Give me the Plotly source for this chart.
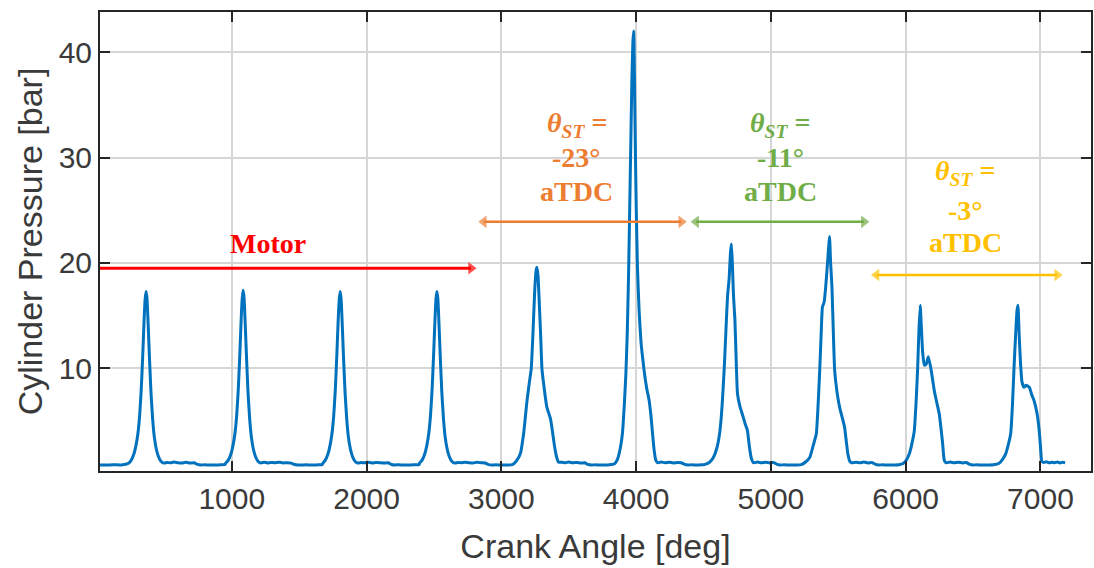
import plotly.graph_objects as go

# ---- data (crank angle [deg], cylinder pressure [bar]) ----
cycle1_deg = [0, 60, 120, 180, 234, 254, 274, 289, 304, 316, 328, 339, 349, 357, 364,
              371, 379, 389, 400, 412, 424, 439, 454, 474, 494,
              520, 545, 570, 600, 630, 660, 690, 720,
              745, 770, 800, 830, 860, 890, 920, 950]
cycle1_bar = [0.85, 0.83, 0.86, 0.84, 1.0, 1.3, 1.9, 2.7, 3.9, 5.5, 8.0, 11.2, 14.5, 16.6, 17.3,
              16.6, 14.3, 11.0, 7.8, 5.3, 3.6, 2.4, 1.7, 1.2, 1.02,
              1.08, 1.05, 1.12, 1.06, 1.04, 1.09, 1.03, 1.05,
              0.9, 0.84, 0.86, 0.83, 0.85, 0.84, 0.86, 0.88]

cycle2_deg = [954, 974, 994, 1009, 1024, 1036, 1048, 1059, 1069, 1077, 1084,
              1091, 1099, 1109, 1120, 1132, 1144, 1159, 1174, 1194, 1214,
              1240, 1265, 1290, 1320, 1350, 1380, 1410, 1440,
              1465, 1490, 1520, 1550, 1580, 1610, 1640, 1670]
cycle2_bar = [1.0, 1.3, 1.9, 2.7, 3.9, 5.5, 8.0, 11.2, 14.5, 16.6, 17.4,
              16.7, 14.4, 11.1, 7.8, 5.3, 3.6, 2.4, 1.7, 1.2, 1.03,
              1.1, 1.04, 1.08, 1.05, 1.11, 1.04, 1.06, 1.02,
              0.88, 0.85, 0.83, 0.86, 0.84, 0.83, 0.86, 0.87]

cycle3_deg = [1674, 1694, 1714, 1729, 1744, 1756, 1768, 1779, 1789, 1797, 1804,
              1811, 1819, 1829, 1840, 1852, 1864, 1879, 1894, 1914, 1934,
              1960, 1985, 2010, 2040, 2070, 2100, 2130, 2160,
              2185, 2210, 2240, 2270, 2300, 2330, 2360, 2390]
cycle3_bar = [0.98, 1.3, 1.9, 2.7, 3.9, 5.5, 8.0, 11.2, 14.5, 16.5, 17.3,
              16.6, 14.3, 11.0, 7.8, 5.3, 3.6, 2.4, 1.7, 1.2, 1.03,
              1.07, 1.05, 1.1, 1.04, 1.08, 1.06, 1.03, 1.05,
              0.89, 0.84, 0.86, 0.84, 0.83, 0.85, 0.86, 0.88]

cycle4_deg = [2392, 2412, 2432, 2447, 2462, 2474, 2486, 2497, 2507, 2515, 2522,
              2529, 2537, 2547, 2558, 2570, 2582, 2597, 2612, 2632, 2652,
              2680, 2705, 2730, 2760, 2790, 2820, 2850, 2880,
              2905, 2930, 2960, 2990, 3020, 3050]
cycle4_bar = [1.0, 1.3, 1.9, 2.7, 3.9, 5.5, 8.0, 11.2, 14.5, 16.6, 17.3,
              16.6, 14.3, 11.0, 7.8, 5.3, 3.6, 2.4, 1.7, 1.2, 1.02,
              1.08, 1.05, 1.1, 1.06, 1.04, 1.09, 1.05, 1.03,
              0.88, 0.84, 0.86, 0.83, 0.85, 0.84]

cycle5_deg = [3081, 3110, 3141, 3165, 3190, 3207, 3222, 3235, 3248, 3258,
              3264, 3272, 3282, 3292, 3301, 3314, 3338, 3363, 3375, 3388,
              3400, 3412, 3425, 3450, 3475, 3500, 3530, 3560, 3590, 3620,
              3640, 3670, 3700, 3730, 3760, 3790, 3815]
cycle5_bar = [0.88, 1.2, 1.9, 3.8, 6.9, 8.6, 10.0, 13.5, 17.5, 19.3,
              19.6, 18.8, 16.0, 13.0, 10.0, 8.5, 6.3, 5.3, 4.4, 3.2,
              2.2, 1.5, 1.1, 1.1, 1.06, 1.12, 1.05, 1.08, 1.03, 1.05,
              0.9, 0.84, 0.86, 0.83, 0.85, 0.84, 0.88]

cycle6_deg = [3840, 3862, 3882, 3898, 3912, 3924, 3934, 3944, 3952, 3960,
              3968, 3976, 3982, 3988, 3994, 4001, 4010, 4022, 4036, 4050,
              4065, 4080, 4096, 4110, 4122, 4134, 4146, 4160, 4185, 4215,
              4245, 4275, 4305, 4335, 4360, 4385, 4415, 4445, 4475, 4500]
cycle6_bar = [0.95, 1.4, 2.4, 3.8, 6.5, 9.5, 13.3, 19.0, 25.0, 31.0,
              37.0, 41.0, 42.0, 37.0, 31.0, 25.0, 19.5, 15.5, 12.5, 10.8,
              9.2, 8.0, 7.0, 5.5, 3.8, 2.2, 1.3, 1.05, 1.12, 1.06,
              1.1, 1.04, 1.08, 1.05, 0.9, 0.84, 0.86, 0.83, 0.85, 0.87]

cycle7_deg = [4511, 4545, 4573, 4600, 4622, 4638, 4654, 4666, 4678, 4690,
              4700, 4707, 4714, 4722, 4733, 4743, 4752, 4770, 4794, 4810,
              4826, 4840, 4856, 4872, 4900, 4930, 4960, 4990, 5020, 5045,
              5070, 5100, 5130, 5160, 5190, 5226]
cycle7_bar = [0.9, 1.1, 1.55, 2.5, 4.1, 6.5, 10.1, 13.5, 16.8, 18.5,
              21.0, 21.8, 20.0, 17.0, 14.6, 10.5, 7.6, 6.4, 5.4, 4.7,
              4.1, 2.6, 1.4, 1.05, 1.12, 1.05, 1.1, 1.04, 1.08, 0.9,
              0.84, 0.86, 0.83, 0.85, 0.84, 0.88]

cycle8_deg = [5255, 5288, 5312, 5337, 5350, 5362, 5372, 5382, 5395, 5405,
              5420, 5435, 5443, 5453, 5463, 5473, 5490, 5510, 5530, 5547,
              5560, 5571, 5585, 5600, 5630, 5660, 5690, 5720, 5750, 5775,
              5800, 5830, 5860, 5890, 5920, 5950, 5978]
cycle8_bar = [1.1, 1.55, 2.6, 3.8, 6.5, 9.8, 13.0, 15.8, 16.3, 17.5,
              20.0, 22.5, 20.0, 17.7, 13.5, 9.8, 7.8, 6.3, 5.3, 4.4,
              3.0, 1.9, 1.2, 1.05, 1.1, 1.05, 1.12, 1.04, 1.08, 0.9,
              0.84, 0.86, 0.83, 0.85, 0.84, 0.86, 0.95]

cycle9_deg = [6005, 6027, 6045, 6064, 6078, 6089, 6098, 6108, 6116, 6126,
              6138, 6152, 6168, 6187, 6212, 6230, 6249, 6262, 6274, 6286,
              6300, 6330, 6360, 6390, 6420, 6450, 6475, 6500, 6530, 6560,
              6590, 6620, 6650, 6693]
cycle9_bar = [1.3, 1.9, 2.8, 4.1, 7.0, 10.1, 13.5, 16.0, 14.0, 11.5,
              10.3, 10.4, 11.1, 10.0, 7.9, 6.8, 5.7, 4.3, 2.9, 1.3,
              1.05, 1.12, 1.05, 1.1, 1.04, 1.07, 0.9, 0.84, 0.86, 0.83,
              0.85, 0.84, 0.86, 1.0]

cycle10_deg = [6720, 6742, 6760, 6779, 6792, 6804, 6815, 6826, 6833, 6841,
               6852, 6863, 6878, 6893, 6918, 6935, 6951, 6975, 6990, 7000,
               7010, 7025, 7045, 7065, 7085, 7105, 7125, 7145, 7165, 7183]
cycle10_bar = [1.4, 1.9, 2.7, 3.8, 6.5, 10.1, 13.0, 15.5, 16.0, 13.5,
               10.5, 8.7, 8.2, 8.4, 8.2, 7.5, 7.0, 5.7, 4.2, 2.6,
               1.2, 1.08, 1.15, 1.05, 1.1, 1.06, 1.12, 1.04, 1.09, 1.06]

x_ticks = [1000, 2000, 3000, 4000, 5000, 6000, 7000]
y_ticks = [10, 20, 30, 40]

# regions (double arrows) and their labels
region_colors = ["#FF0000", "#ED7D31", "#70AD47", "#FFC000"]
region_start = [22, 2870, 4445, 5783]
region_end = [2775, 4335, 5690, 7124]
region_level = [19.5, 23.9, 23.9, 18.86]
region_has_start_head = [False, True, True, True]
region_label_x = [1268, 3558, 5068, 6443]
label_lines = [["<b>Motor</b>"],
               ["<b><i>θ</i><sub><i>ST</i></sub> =</b>", "<b>-23°</b>", "<b>aTDC</b>"],
               ["<b><i>θ</i><sub><i>ST</i></sub> =</b>", "<b>-11°</b>", "<b>aTDC</b>"],
               ["<b><i>θ</i><sub><i>ST</i></sub> =</b>", "<b>-3°</b>", "<b>aTDC</b>"]]
label_line_y = [[21.8], [33.1, 30.0, 26.8], [33.1, 30.0, 26.8], [28.55, 25.0, 21.9]]

# ---- assemble ----
deg_parts = [cycle1_deg, cycle2_deg, cycle3_deg, cycle4_deg, cycle5_deg,
             cycle6_deg, cycle7_deg, cycle8_deg, cycle9_deg, cycle10_deg]
bar_parts = [cycle1_bar, cycle2_bar, cycle3_bar, cycle4_bar, cycle5_bar,
             cycle6_bar, cycle7_bar, cycle8_bar, cycle9_bar, cycle10_bar]
crank = [v for part in deg_parts for v in part]
pressure = [v for part in bar_parts for v in part]

fig = go.Figure()
fig.add_trace(go.Scatter(x=crank, y=pressure, mode="lines",
                         line=dict(color="#0072BD", width=3, shape="spline", smoothing=0.4),
                         showlegend=False, hoverinfo="skip"))

for i, col in enumerate(region_colors):
    fig.add_trace(go.Scatter(
        x=[region_start[i], region_end[i]], y=[region_level[i], region_level[i]],
        mode="lines+markers", showlegend=False, hoverinfo="skip",
        line=dict(color=col, width=3 if i == 0 else 2.5),
        marker=dict(symbol=["triangle-left", "triangle-right"],
                    size=[11 if region_has_start_head[i] else 0, 11],
                    color=col, line=dict(width=0)),
    ))

annotations = []
for i, col in enumerate(region_colors):
    for line_txt, ly in zip(label_lines[i], label_line_y[i]):
        annotations.append(dict(
            x=region_label_x[i], y=ly, xref="x", yref="y", text=line_txt,
            showarrow=False, xanchor="center", yanchor="middle",
            font=dict(family="Liberation Serif", size=28, color=col)))

axis_common = dict(
    showgrid=True, gridcolor="#d6d6d6", gridwidth=1.5,
    ticks="inside", ticklen=10, tickwidth=2, tickcolor="#262626",
    showline=True, linecolor="#262626", linewidth=2, mirror="ticks",
    zeroline=False,
    tickfont=dict(family="Liberation Sans", size=30, color="#3a3a3a"),
)

fig.update_layout(
    width=1094, height=568,
    margin=dict(l=100, r=1, t=12, b=97),
    paper_bgcolor="white", plot_bgcolor="white",
    xaxis=dict(range=[22, 7375], tickvals=x_ticks,
               title=dict(text="Crank Angle [deg]", standoff=20,
                          font=dict(family="Liberation Sans", size=34, color="#3a3a3a")),
               **axis_common),
    yaxis=dict(range=[0.27, 43.8], tickvals=y_ticks,
               title=dict(text="Cylinder Pressure [bar]", standoff=6,
                          font=dict(family="Liberation Sans", size=34, color="#3a3a3a")),
               **axis_common),
    annotations=annotations,
)

fig.write_html("out.html")
